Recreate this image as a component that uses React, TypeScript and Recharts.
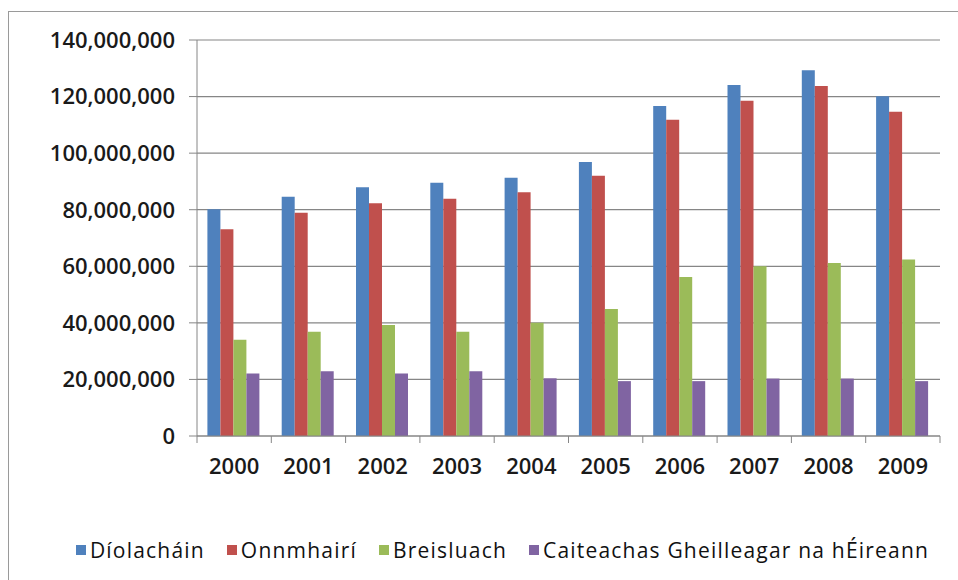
import { BarChart, Bar, XAxis, YAxis, CartesianGrid, Legend } from "recharts";

const YEARS = ["2000", "2001", "2002", "2003", "2004", "2005", "2006", "2007", "2008", "2009"];
const DIOLACHAIN = [80.2, 84.6, 87.9, 89.5, 91.3, 96.9, 116.7, 124.1, 129.3, 120.1];
const ONNMHAIRI = [73.1, 78.9, 82.3, 83.9, 86.2, 92.0, 111.8, 118.5, 123.7, 114.6];
const BREISLUACH = [34.0, 36.9, 39.2, 36.9, 40.0, 44.9, 56.2, 60.0, 61.2, 62.4];
const CAITEACHAS = [22.1, 22.9, 22.1, 22.9, 20.4, 19.4, 19.4, 20.3, 20.3, 19.4];
const Y_TICKS = [0, 20000000, 40000000, 60000000, 80000000, 100000000, 120000000, 140000000];

const SERIES = [
  { key: "diolachain", name: "Díolacháin", color: "#4F81BD", values: DIOLACHAIN },
  { key: "onnmhairi", name: "Onnmhairí", color: "#C0504D", values: ONNMHAIRI },
  { key: "breisluach", name: "Breisluach", color: "#9BBB59", values: BREISLUACH },
  { key: "caiteachas", name: "Caiteachas Gheilleagar na hÉireann", color: "#8064A2", values: CAITEACHAS },
];

// values above are in millions
const data = YEARS.map((year, i) => {
  const row: Record<string, string | number> = { year };
  SERIES.forEach((s) => {
    row[s.key] = Math.round(s.values[i] * 1000000);
  });
  return row;
});

const AXIS = "#868686";
const FONT = "'Open Sans', sans-serif";

function YearTick(props: any) {
  const { x, y, payload, index, visibleTicksCount } = props;
  const half = payload?.offset || 37.15;
  return (
    <g>
      <line x1={x - half} x2={x - half} y1={y} y2={y + 7} stroke={AXIS} />
      {index === visibleTicksCount - 1 && (
        <line x1={x + half} x2={x + half} y1={y} y2={y + 7} stroke={AXIS} />
      )}
      <text x={x} y={y} dy={38} textAnchor="middle" fill="#1a1a1a" fontSize={22} fontWeight={600} fontFamily={FONT}>
        {payload.value}
      </text>
    </g>
  );
}

// keep the series order (recharts would sort the legend by name)
function LegendRow() {
  return (
    <div
      style={{
        display: "flex",
        justifyContent: "center",
        alignItems: "center",
        gap: 22,
        fontFamily: FONT,
        fontSize: 21,
        letterSpacing: 1.2,
        color: "#111",
      }}
    >
      {SERIES.map((s) => (
        <span key={s.key} style={{ display: "flex", alignItems: "center", whiteSpace: "nowrap" }}>
          <span style={{ display: "inline-block", width: 10, height: 10, background: s.color, marginRight: 4 }} />
          {s.name}
        </span>
      ))}
    </div>
  );
}

export default function App() {
  return (
    <div style={{ position: "absolute", left: 0, top: 0, width: 958, height: 580, overflow: "hidden", background: "#fff" }}>
      <div style={{ position: "absolute", left: 8, top: 11, width: 1200, height: 1000, border: "1px solid #9a9a9a" }} />
      <BarChart
        width={958}
        height={580}
        data={data}
        margin={{ top: 40, right: 18, left: 0, bottom: 0 }}
        barCategoryGap="14%"
        barGap={0}
        style={{ position: "absolute", left: 0, top: 0 }}
      >
        <CartesianGrid vertical={false} stroke={AXIS} strokeWidth={1.2} />
        <XAxis
          dataKey="year"
          height={144}
          axisLine={{ stroke: AXIS }}
          tickLine={false}
          tickSize={0}
          tickMargin={0}
          interval={0}
          tick={<YearTick />}
        />
        <YAxis
          width={197}
          domain={[0, 140000000]}
          ticks={Y_TICKS}
          interval={0}
          axisLine={{ stroke: AXIS }}
          tickLine={{ stroke: AXIS }}
          tickSize={8}
          tickMargin={14}
          tick={{ fill: "#1a1a1a", fontSize: 22, fontWeight: 600, fontFamily: FONT }}
          tickFormatter={(v: number) => v.toLocaleString("en-US")}
        />
        <Legend
          layout="horizontal"
          verticalAlign="middle"
          align="center"
          content={<LegendRow />}
          wrapperStyle={{ top: 536, left: 72, width: 861 }}
        />
        {SERIES.map((s) => (
          <Bar key={s.key} dataKey={s.key} name={s.name} fill={s.color} isAnimationActive={false} />
        ))}
      </BarChart>
    </div>
  );
}
